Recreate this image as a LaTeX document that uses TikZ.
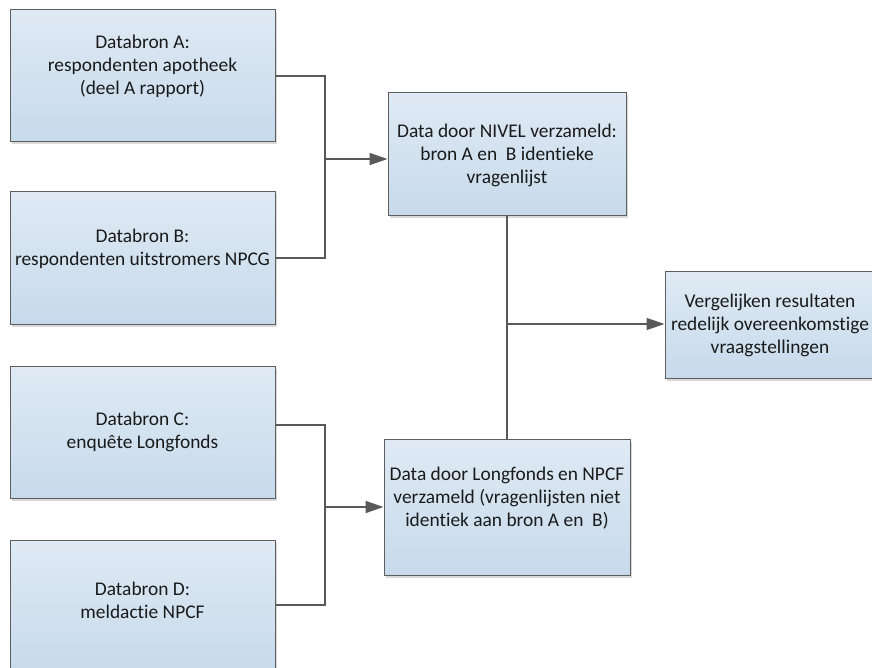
\documentclass[tikz,border=0pt]{standalone}
\usepackage{fontspec}
\setmainfont{Carlito}[Ligatures={NoCommon}]
\usetikzlibrary{shadows,arrows.meta}
\definecolor{boxtop}{HTML}{DFEAF4}
\definecolor{boxbot}{HTML}{C7DAEB}
\definecolor{boxline}{HTML}{5E5E5E}
\definecolor{conn}{HTML}{595959}
\definecolor{txt}{HTML}{1A1A1A}
\tikzset{
  procbox/.style={draw=boxline, line width=1pt, top color=boxtop, bottom color=boxbot,
    inner sep=0pt,
    drop shadow={shadow xshift=2pt, shadow yshift=-2.5pt, fill=black, opacity=0.15}},
  srcbox/.style={procbox, minimum width=265pt, minimum height=132pt},
  lbl/.style={align=center, inner sep=0pt, text=txt,
    font=\fontsize{19.4pt}{23pt}\selectfont},
  link/.style={draw=conn, line width=1.5pt},
  arr/.style={link, -{Triangle[length=18pt, width=12pt]}}
}
\begin{document}
\begin{tikzpicture}[x=1pt, y=-1pt]
\useasboundingbox (0,0) rectangle (872,668);
\fill[white] (0,0) rectangle (872,668);
% source boxes
\node[srcbox] (A) at (142.5,76) {};
\node[lbl] (At) at (142.5,66) {Databron A:\\respondenten apotheek\\(deel A rapport)};
\node[srcbox] (B) at (142.5,258) {};
\node[lbl] (Bt) at (142.5,248.5) {Databron B:\\respondenten uitstromers NPCG};
\node[srcbox] (C) at (142.5,432) {};
\node[lbl] (Ct) at (142.5,432) {Databron C:\\enquête Longfonds};
\node[srcbox] (D) at (142.5,606) {};
\node[lbl] (Dt) at (142.5,600) {Databron D:\\meldactie NPCF};
% middle boxes
\node[procbox, minimum width=238pt, minimum height=123pt] (N) at (507,154.5) {};
\node[lbl] (Nt) at (507,155) {Data door NIVEL verzameld:\\bron A en\ \ B identieke\\vragenlijst};
\node[procbox, minimum width=246pt, minimum height=136pt] (L) at (507,507) {};
\node[lbl] (Lt) at (507,498) {Data door Longfonds en NPCF\\verzameld (vragenlijsten niet\\identiek aan bron A en\ \ B)};
% result box
\node[procbox, minimum width=210pt, minimum height=107pt] (R) at (770,324.5) {};
\node[lbl] (Rt) at (770,325) {Vergelijken resultaten\\redelijk overeenkomstige\\vraagstellingen};
% junctions
\coordinate (j1) at (325,159);
\coordinate (ja) at (325,76);
\coordinate (jb) at (325,258);
\coordinate (jc) at (325,425);
\coordinate (jd) at (325,605);
\coordinate (j2) at (325,507);
\coordinate (j3) at (507,324);
% connectors
\draw[link] (A.east |- ja) -- (ja) -- (jb) -- (B.east |- jb);
\draw[arr] (j1) -- (j1 -| N.west);
\draw[link] (C.east |- jc) -- (jc) -- (jd) -- (D.east |- jd);
\draw[arr] (j2) -- (j2 -| L.west);
\draw[link] (N.south) -- (L.north);
\draw[arr] (j3) -- (j3 -| R.west);
\end{tikzpicture}
\end{document}
